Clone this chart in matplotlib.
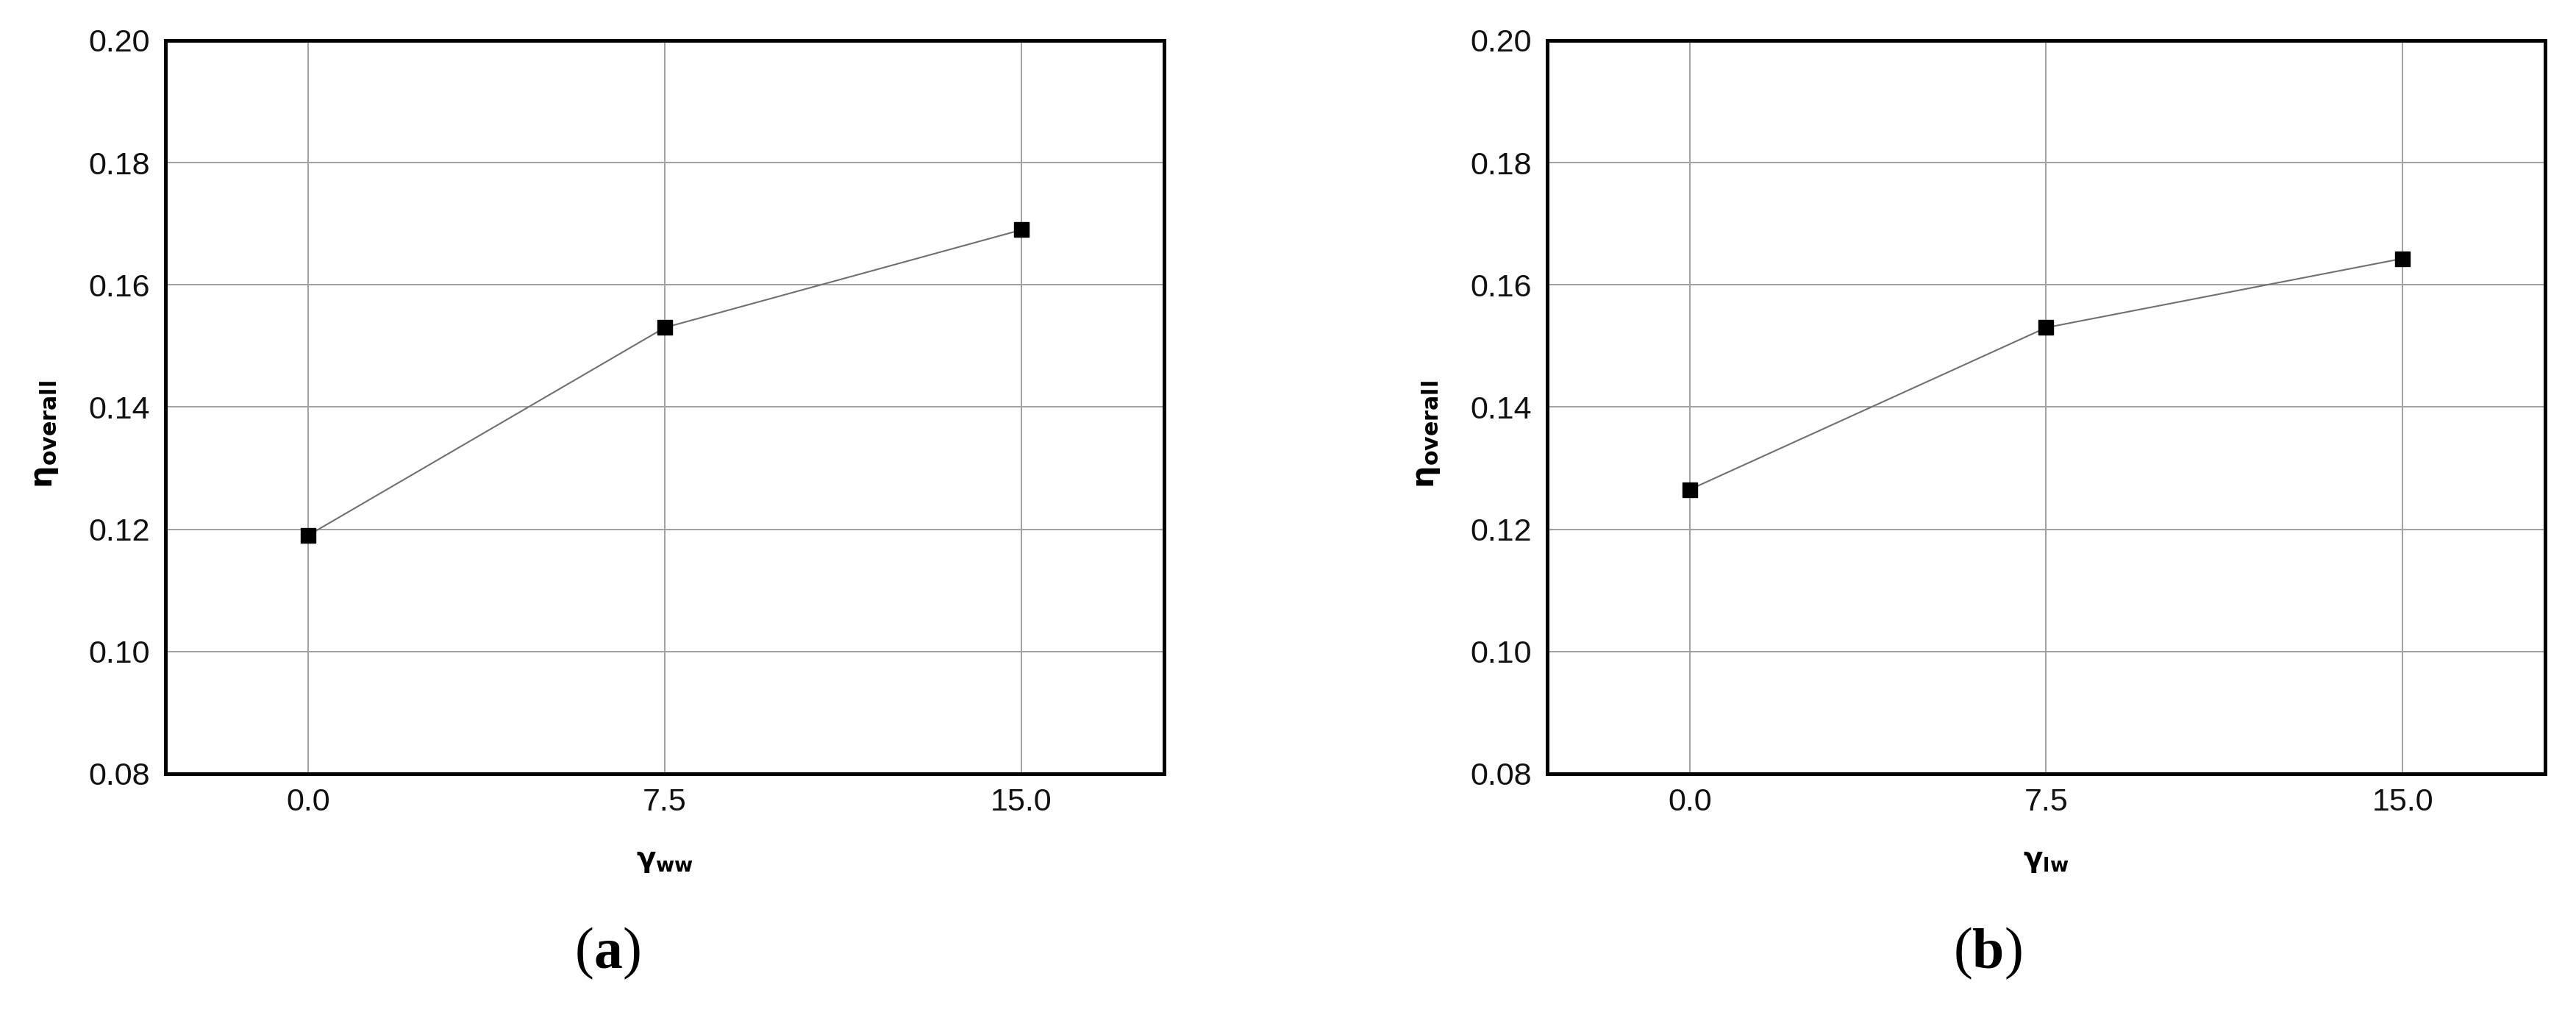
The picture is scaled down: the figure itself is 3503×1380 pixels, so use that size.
import matplotlib
matplotlib.use('Agg')
import matplotlib.pyplot as plt

# data
gamma = [0.0, 7.5, 15.0]
eta_ww = [0.119, 0.153, 0.169]
eta_lw = [0.1265, 0.153, 0.1643]

xticks = [0.0, 7.5, 15.0]
xticklabels = ['0.0', '7.5', '15.0']
yticks = [0.08, 0.10, 0.12, 0.14, 0.16, 0.18, 0.20]
yticklabels = ['0.08', '0.10', '0.12', '0.14', '0.16', '0.18', '0.20']
xlabels = [r'$\mathbf{\gamma_{ww}}$', r'$\mathbf{\gamma_{lw}}$']
ylabel = r'$\mathbf{\eta_{overall}}$'
captions = ['a', 'b']

plt.rcParams['font.family'] = 'Liberation Sans'
plt.rcParams['mathtext.fontset'] = 'custom'
plt.rcParams['mathtext.rm'] = 'DejaVu Sans'
plt.rcParams['mathtext.it'] = 'DejaVu Sans:italic'
plt.rcParams['mathtext.bf'] = 'DejaVu Sans:bold'

fig = plt.figure(figsize=(35.03, 13.8), dpi=100)

boxes = [[0.0642, 0.2377, 0.3877, 0.7225],
         [0.6006, 0.2377, 0.3874, 0.7225]]
cap_x = [827 / 3503, 2704 / 3503]
series = [eta_ww, eta_lw]

for i in range(2):
    ax = fig.add_axes(boxes[i])
    ax.plot(gamma, series[i], color='#707070', lw=1.5, zorder=3)
    ax.plot(gamma, series[i], ls='none', marker='s', ms=15,
            mfc='black', mec='black', zorder=4)

    ax.set_xlim(-3, 18)
    ax.set_ylim(0.08, 0.20)
    ax.set_xticks(xticks)
    ax.set_xticklabels(xticklabels)
    ax.set_yticks(yticks)
    ax.set_yticklabels(yticklabels)
    ax.tick_params(axis='both', length=0, labelsize=31, colors='#111111')
    ax.tick_params(axis='x', pad=14)
    ax.tick_params(axis='y', pad=15)
    ax.grid(True, color='#a0a0a0', lw=1.4)
    ax.set_axisbelow(True)
    for s in ax.spines.values():
        s.set_linewidth(3.6)
        s.set_color('black')

    ax.set_xlabel(xlabels[i], fontsize=28, va='center')
    ax.xaxis.set_label_coords(0.5, -0.119)
    ax.set_ylabel(ylabel, fontsize=31, va='center')
    ax.yaxis.set_label_coords(-0.1197, 0.4624)

    # caption: bold letter in regular parentheses
    t = fig.text(cap_x[i], 0.0471, captions[i], fontsize=56, fontweight='bold',
                 family='Liberation Serif', ha='center', va='baseline')
    ax.annotate('(', xy=(0, 0), xycoords=t, ha='right', va='bottom',
                fontsize=56, family='Liberation Serif')
    ax.annotate(')', xy=(1, 0), xycoords=t, ha='left', va='bottom',
                fontsize=56, family='Liberation Serif')

fig.savefig('out.png', dpi=100)
